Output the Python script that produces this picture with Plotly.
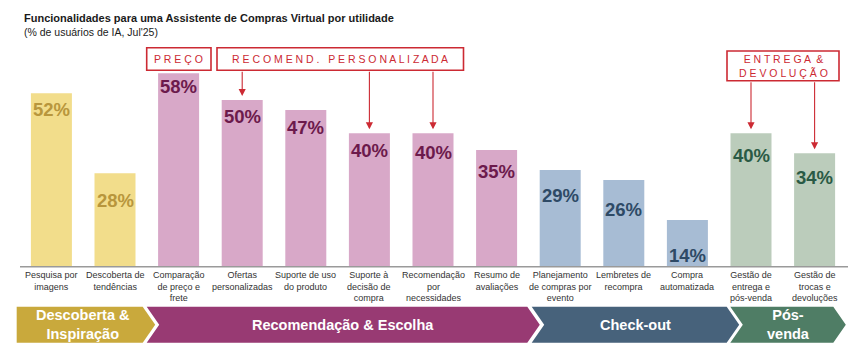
import plotly.graph_objects as go

W, H = 867, 347

# ---------------- data ----------------
categories = [
    "Pesquisa por<br>imagens",
    "Descoberta de<br>tendências",
    "Comparação<br>de preço e<br>frete",
    "Ofertas<br>personalizadas",
    "Suporte de uso<br>do produto",
    "Suporte à<br>decisão de<br>compra",
    "Recomendação<br>por<br>necessidades",
    "Resumo de<br>avaliações",
    "Planejamento<br>de compras por<br>evento",
    "Lembretes de<br>recompra",
    "Compra<br>automatizada",
    "Gestão de<br>entrega e<br>pós-venda",
    "Gestão de<br>trocas e<br>devoluções",
]
values = [52, 28, 58, 50, 47, 40, 40, 35, 29, 26, 14, 40, 34]
stage_of = [0, 0, 1, 1, 1, 1, 1, 1, 2, 2, 2, 3, 3]
stage_names = ["Descoberta &<br>Inspiração", "Recomendação & Escolha", "Check-out", "Pós-<br>venda"]
callout_texts = ["P R E Ç O", "R E C O M E N D .   P E R S O N A L I Z A D A", "E N T R E G A  &<br>D E V O L U Ç Ã O"]
callout_targets = [[], [3, 5, 6], [11, 12]]
title = "Funcionalidades para uma Assistente de Compras Virtual por utilidade"
subtitle = "(% de usuários de IA, Jul'25)"

# ---------------- styles ----------------
bar_colors = ["#F2DD8B", "#D8A8C8", "#A7BCD4", "#BBCCBB"]
label_colors = ["#B8963C", "#6C1A4C", "#2E4A66", "#2A5A45"]
chevron_colors = ["#C9A93C", "#983A73", "#47627B", "#4F7D65"]
label_drop_px = [16, 27, 13, 16, 17, 17, 19, 21, 25, 29, 35, 22, 24]  # label centre below bar top
RED = "#CC2A33"
FONT = "Liberation Sans, Arial, sans-serif"

# pixel geometry helpers (plot area == full figure)
X0, DX = 51.4, 63.6          # center of first bar, bar spacing (px)
BASE, PPU = 266.7, 3.3333    # baseline y (px), px per percent
def px(x):
    return x / W
def py(y):
    return 1 - y / H
def ydata(ypix):
    return (BASE - ypix) / PPU

xr = [(0 - X0) / DX, (W - X0) / DX]
yr = [-(H - BASE) / PPU, BASE / PPU]

xs = list(range(len(values)))
fig = go.Figure(go.Bar(
    x=xs, y=values, width=41 / DX,
    marker=dict(color=[bar_colors[s] for s in stage_of], line=dict(width=0)),
    hoverinfo="skip",
))

ann = []
shapes = []

# value labels inside bars
for i, v in enumerate(values):
    ann.append(dict(x=i, y=v, xref="x", yref="y", text=f"<b>{v}%</b>", showarrow=False,
                    yanchor="middle", yshift=-label_drop_px[i],
                    font=dict(size=18.5, color=label_colors[stage_of[i]], family=FONT)))

# category labels
for i, c in enumerate(categories):
    ann.append(dict(x=i, y=0, xref="x", yref="y", text=c, showarrow=False,
                    yanchor="top", yshift=-1, align="center",
                    font=dict(size=9, color="#333333", family=FONT)))

# axis baseline
shapes.append(dict(type="line", xref="paper", yref="y", x0=px(20), x1=px(848), y0=0, y1=0,
                   line=dict(color="#9A9A9A", width=1.5)))

# title
ann.append(dict(x=px(22), y=py(17.5), xref="paper", yref="paper", xanchor="left", yanchor="middle",
                text=f"<b>{title}</b>", showarrow=False,
                font=dict(size=11, color="#1A1A1A", family=FONT)))
ann.append(dict(x=px(22), y=py(32), xref="paper", yref="paper", xanchor="left", yanchor="middle",
                text=subtitle, showarrow=False,
                font=dict(size=10.5, color="#1A1A1A", family=FONT)))

# chevrons
chev = [(16.7, 142.7, False), (146.7, 527.3, True), (531.7, 726.7, True), (730.3, 833.3, True)]
top, bot = 306.7, 342.7
mid = (top + bot) / 2
d = 12.5
for k, (xl, xrr, notch) in enumerate(chev):
    pts = [(xl, top), (xrr, top), (xrr + d, mid), (xrr, bot), (xl, bot)]
    if notch:
        pts.append((xl + d, mid))
    path = "M " + " L ".join(f"{px(a):.5f},{py(b):.5f}" for a, b in pts) + " Z"
    shapes.append(dict(type="path", path=path, xref="paper", yref="paper",
                       fillcolor=chevron_colors[k], line=dict(width=0), layer="below"))
    cx = (xl + xrr) / 2 + (d / 2 if notch else 3)
    ann.append(dict(x=px(cx), y=py(mid), xref="paper", yref="paper", text=f"<b>{stage_names[k]}</b>",
                    showarrow=False, xanchor="center", yanchor="middle",
                    font=dict(size=14.5, color="white", family=FONT)))

# callout boxes
boxes = [(146.7, 211, 47.7, 70.2), (217, 463.5, 47.7, 70.2), (727, 839, 51, 80.7)]
for k, (x0b, x1b, y0b, y1b) in enumerate(boxes):
    shapes.append(dict(type="rect", xref="paper", yref="paper", x0=px(x0b), x1=px(x1b),
                       y0=py(y0b), y1=py(y1b), line=dict(color=RED, width=1.6), fillcolor="rgba(0,0,0,0)"))
    ann.append(dict(x=px((x0b + x1b) / 2), y=py((y0b + y1b) / 2 + 0.5), xref="paper", yref="paper",
                    text=callout_texts[k], showarrow=False, xanchor="center", yanchor="middle",
                    font=dict(size=10.5, color=RED, family=FONT)))
    for t in callout_targets[k]:
        ann.append(dict(x=t, y=values[t] + 1.2, xref="x", yref="y", ax=t, ay=ydata(y1b),
                        axref="x", ayref="y", text="", showarrow=True, arrowhead=2,
                        arrowsize=1.3, arrowwidth=1.1, arrowcolor=RED, standoff=0))

fig.update_layout(
    width=W, height=H, autosize=False,
    margin=dict(l=0, r=0, t=0, b=0),
    paper_bgcolor="white", plot_bgcolor="white",
    showlegend=False,
    xaxis=dict(range=xr, visible=False, fixedrange=True),
    yaxis=dict(range=yr, visible=False, fixedrange=True),
    annotations=ann, shapes=shapes,
    font=dict(family=FONT),
)

fig.write_html("out.html")
